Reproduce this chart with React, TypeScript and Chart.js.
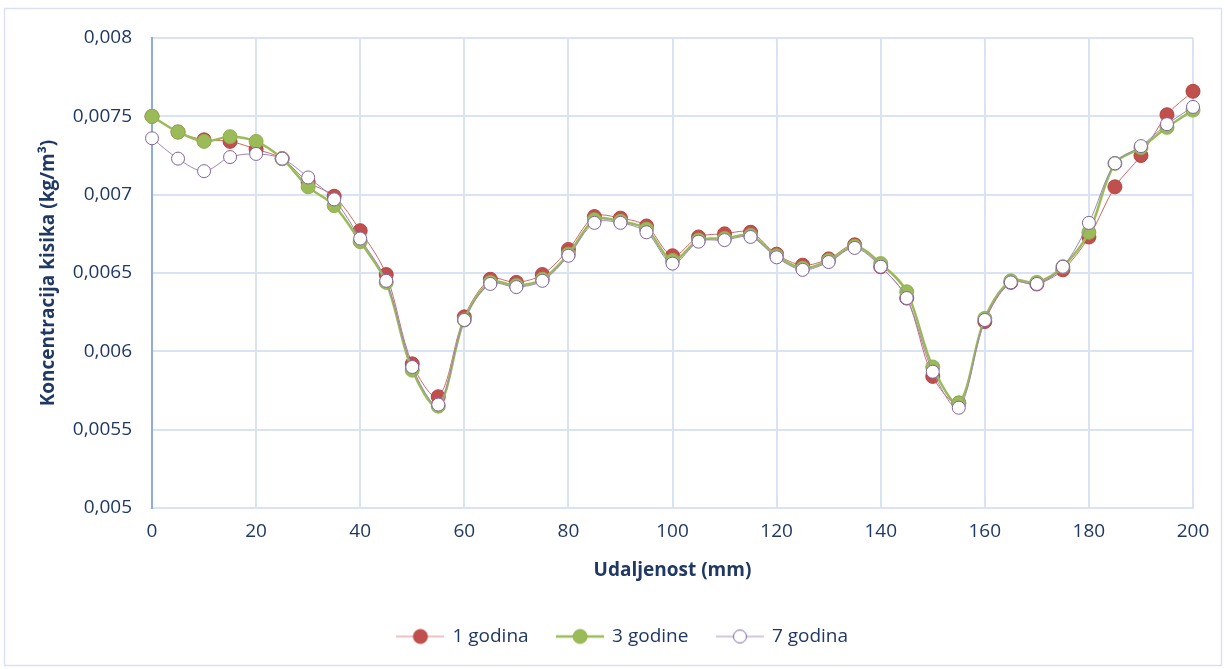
import React, { useEffect, useRef } from "react";
import { Chart, registerables } from "chart.js";

Chart.register(...registerables);

const distances = [0, 5, 10, 15, 20, 25, 30, 35, 40, 45, 50, 55, 60, 65, 70, 75, 80, 85, 90, 95, 100, 105, 110, 115, 120, 125, 130, 135, 140, 145, 150, 155, 160, 165, 170, 175, 180, 185, 190, 195, 200];

const godina1 = [0.0075, 0.0074, 0.00735, 0.00734, 0.00729, 0.00723, 0.00708, 0.00699, 0.00677, 0.00649, 0.00592, 0.00571, 0.00622, 0.00646, 0.00644, 0.00649, 0.00665, 0.00686, 0.00685, 0.0068, 0.00661, 0.00673, 0.00675, 0.00676, 0.00662, 0.00655, 0.00659, 0.00668, 0.00654, 0.00634, 0.00584, 0.00567, 0.00619, 0.00644, 0.00643, 0.00652, 0.00673, 0.00705, 0.00725, 0.00751, 0.00766];

const godine3 = [0.0075, 0.0074, 0.00734, 0.00737, 0.00734, 0.00723, 0.00705, 0.00693, 0.0067, 0.00644, 0.00588, 0.00565, 0.0062, 0.00644, 0.00642, 0.00646, 0.00662, 0.00684, 0.00683, 0.00678, 0.00658, 0.00671, 0.00672, 0.00674, 0.00661, 0.00653, 0.00658, 0.00667, 0.00656, 0.00638, 0.0059, 0.00567, 0.00621, 0.00645, 0.00644, 0.00654, 0.00676, 0.0072, 0.0073, 0.00743, 0.00754];

const godina7 = [0.00736, 0.00723, 0.00715, 0.00724, 0.00726, 0.00723, 0.00711, 0.00697, 0.00672, 0.00645, 0.0059, 0.00566, 0.0062, 0.00643, 0.00641, 0.00645, 0.00661, 0.00682, 0.00682, 0.00676, 0.00656, 0.0067, 0.00671, 0.00673, 0.0066, 0.00652, 0.00657, 0.00666, 0.00654, 0.00634, 0.00587, 0.00564, 0.0062, 0.00644, 0.00643, 0.00654, 0.00682, 0.0072, 0.00731, 0.00745, 0.00756];

const seriesLabels = ["1 godina", "3 godine", "7 godina"];
const xTitle = "Udaljenost (mm)";
const yTitle = "Koncentracija kisika (kg/m³)";

const TEXT = "#1F3864";
const GRID = "#DAE3F3";
const FONT = "'Open Sans', 'Liberation Sans', sans-serif";

function legendIcon(line: string, lineWidth: number, fill: string, stroke: string, r: number) {
  const c = document.createElement("canvas");
  c.width = 48;
  c.height = 18;
  const ctx = c.getContext("2d")!;
  ctx.strokeStyle = line;
  ctx.lineWidth = lineWidth;
  ctx.beginPath();
  ctx.moveTo(0, 9);
  ctx.lineTo(48, 9);
  ctx.stroke();
  ctx.beginPath();
  ctx.arc(24, 9, r, 0, Math.PI * 2);
  ctx.fillStyle = fill;
  ctx.fill();
  ctx.lineWidth = 1;
  ctx.strokeStyle = stroke;
  ctx.stroke();
  return c;
}

const frame = {
  id: "frame",
  beforeDraw(chart: any) {
    const ctx = chart.ctx;
    ctx.save();
    ctx.fillStyle = "#ffffff";
    ctx.fillRect(0, 0, chart.width, chart.height);
    ctx.strokeStyle = "#D9E1F2";
    ctx.lineWidth = 1.5;
    ctx.strokeRect(4.5, 8.5, 1217, 657);
    ctx.restore();
  },
};

export default function App() {
  const ref = useRef<HTMLCanvasElement | null>(null);

  useEffect(() => {
    document.body.style.margin = "0";
    const toPts = (vals: number[]) => distances.map((d, i) => ({ x: d, y: vals[i] }));
    const icons = [
      legendIcon("#D98886", 1, "#C0504D", "#B8433F", 7),
      legendIcon("#9BBB59", 2.5, "#9BBB59", "#8FB04E", 7),
      legendIcon("#A592C2", 1, "#FFFFFF", "#8064A2", 6.5),
    ];
    const chart = new Chart(ref.current!, {
      type: "line",
      data: {
        datasets: [
          {
            label: seriesLabels[2],
            data: toPts(godina7),
            borderColor: "#9C86BC",
            borderWidth: 1,
            pointBackgroundColor: "#FFFFFF",
            pointBorderColor: "#8064A2",
            pointBorderWidth: 1,
            pointRadius: 6.5,
            tension: 0.33,
            clip: false,
          },
          {
            label: seriesLabels[1],
            data: toPts(godine3),
            borderColor: "#9BBB59",
            borderWidth: 2.5,
            pointBackgroundColor: "#9BBB59",
            pointBorderColor: "#8FB04E",
            pointBorderWidth: 1,
            pointRadius: 7,
            tension: 0.33,
            clip: false,
          },
          {
            label: seriesLabels[0],
            data: toPts(godina1),
            borderColor: "#D06A67",
            borderWidth: 1,
            pointBackgroundColor: "#C0504D",
            pointBorderColor: "#B8433F",
            pointBorderWidth: 1,
            pointRadius: 7,
            tension: 0.33,
            clip: false,
          },
        ],
      },
      options: {
        responsive: false,
        maintainAspectRatio: false,
        animation: false,
        devicePixelRatio: 1,
        layout: { padding: { left: 53, top: 38, right: 32, bottom: 13 } },
        elements: { point: { pointStyle: "circle" } },
        scales: {
          x: {
            type: "linear",
            min: 0,
            max: 200,
            ticks: {
              stepSize: 20,
              color: TEXT,
              padding: 12,
              font: { family: FONT, size: 19 },
            },
            grid: { color: GRID, lineWidth: 2, drawTicks: false },
            border: { color: GRID, width: 2 },
            title: {
              display: true,
              text: xTitle,
              color: TEXT,
              font: { family: FONT, size: 19, weight: "bold" },
              padding: { top: 0, bottom: 16 },
            },
            afterFit: (s: any) => {
              s.height = 90;
            },
          },
          y: {
            type: "linear",
            min: 0.005,
            max: 0.008,
            ticks: {
              stepSize: 0.0005,
              color: TEXT,
              padding: 20,
              font: { family: FONT, size: 19 },
              callback: (v: any) =>
                Number(v).toFixed(4).replace(/0+$/, "").replace(".", ","),
            },
            grid: { color: GRID, lineWidth: 2, drawTicks: false },
            border: { color: "#8FAADC", width: 2 },
            title: {
              display: true,
              text: yTitle,
              color: TEXT,
              font: { family: FONT, size: 19, weight: "bold" },
              padding: { top: -16, bottom: 0 },
            },
            afterFit: (s: any) => {
              s.width = 99;
            },
          },
        },
        plugins: {
          tooltip: { enabled: false },
          legend: {
            position: "bottom",
            reverse: true,
            labels: {
              color: TEXT,
              font: { family: FONT, size: 19 },
              usePointStyle: true,
              pointStyleWidth: 45,
              padding: 29,
              generateLabels: (chart: any) =>
                chart.data.datasets.map((ds: any, i: number) => ({
                  text: ds.label,
                  fillStyle: "transparent",
                  strokeStyle: "transparent",
                  fontColor: TEXT,
                  lineWidth: 0,
                  pointStyle: icons[2 - i],
                  datasetIndex: i,
                  hidden: false,
                })),
            },
          },
        },
      } as any,
      plugins: [frame],
    });
    return () => chart.destroy();
  }, []);

  return (
    <div style={{ width: 1225, height: 669 }}>
      <canvas ref={ref} width={1225} height={669} />
    </div>
  );
}
